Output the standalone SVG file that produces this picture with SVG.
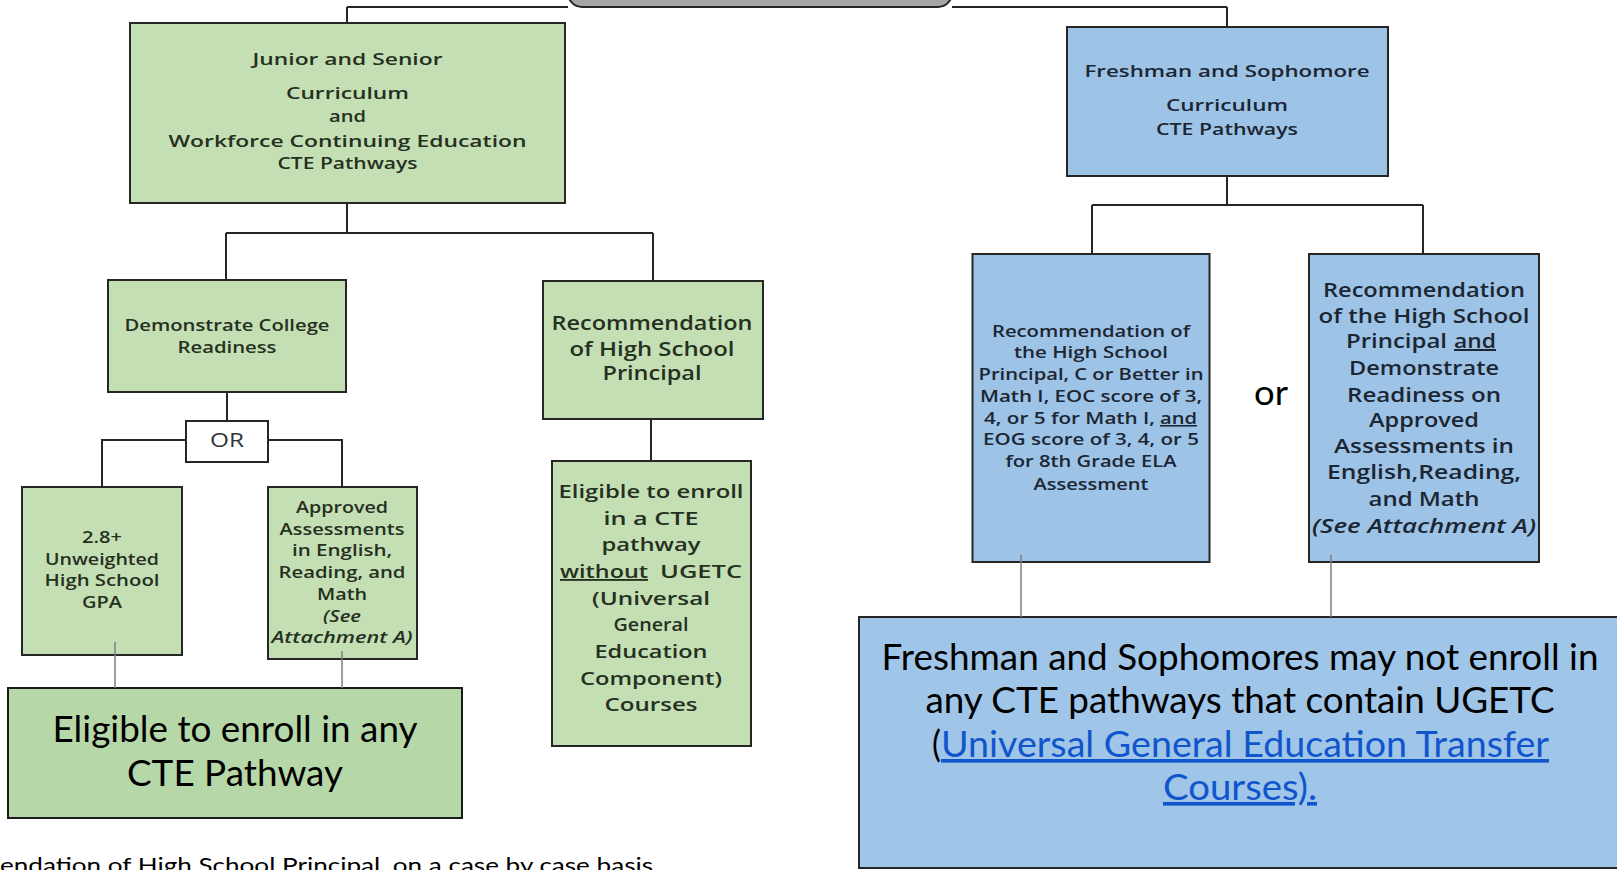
<svg xmlns="http://www.w3.org/2000/svg" width="1617" height="870" viewBox="0 0 1617 870">
<style>
.g{fill:#c5dfb4;stroke:#262626;stroke-width:2}
.g2{fill:#b6d7a8;stroke:#1a1a1a;stroke-width:2}
.b{fill:#9dc3e6;stroke:#262626;stroke-width:2}
.b2{fill:#9fc5e8;stroke:#262626;stroke-width:2}
.w{fill:#ffffff;stroke:#262626;stroke-width:2}
.t{font-family:"Open Sans","DejaVu Sans",sans-serif;font-weight:600;text-anchor:middle;fill:#25301f}
.tb{font-family:"Open Sans","DejaVu Sans",sans-serif;font-weight:600;text-anchor:middle;fill:#1c2633}
.ts{font-family:"Open Sans","DejaVu Sans",sans-serif;font-weight:600;fill:#1c2633}
.tg{font-family:"Open Sans","DejaVu Sans",sans-serif;font-weight:600;fill:#25301f}
.l{font-family:Lato,"Liberation Sans",sans-serif;fill:#000}
.lk{fill:#1155cc}
.i{font-style:italic}
.u{text-decoration:underline}
.c{fill:none;stroke:#262626;stroke-width:2}
.cg{fill:none;stroke:#808080;stroke-width:1.5}
</style>

<g id="root">
<rect x="568" y="-40" width="384" height="47" rx="14" fill="#a6a6a6" stroke="#262626" stroke-width="2"/>
</g>

<g id="junior-senior">
<rect class="g" x="130" y="23" width="435" height="180"/>
<text class="t" font-size="17" x="347.5" y="65" textLength="190" lengthAdjust="spacingAndGlyphs">Junior and Senior</text>
<text class="t" font-size="17" x="347.5" y="99" textLength="123" lengthAdjust="spacingAndGlyphs">Curriculum</text>
<text class="t" font-size="17" x="347.5" y="122" textLength="37" lengthAdjust="spacingAndGlyphs">and</text>
<text class="t" font-size="17" x="347.5" y="147" textLength="358" lengthAdjust="spacingAndGlyphs">Workforce Continuing Education</text>
<text class="t" font-size="17" x="347.5" y="169" textLength="140" lengthAdjust="spacingAndGlyphs">CTE Pathways</text>
</g>

<g id="freshman-sophomore">
<rect class="b" x="1067" y="27" width="321" height="149"/>
<text class="tb" font-size="17" x="1227" y="77" textLength="285" lengthAdjust="spacingAndGlyphs">Freshman and Sophomore</text>
<text class="tb" font-size="17" x="1227" y="111" textLength="122" lengthAdjust="spacingAndGlyphs">Curriculum</text>
<text class="tb" font-size="17" x="1227" y="135" textLength="142" lengthAdjust="spacingAndGlyphs">CTE Pathways</text>
</g>

<g id="college-readiness">
<rect class="g" x="108" y="280" width="238" height="112"/>
<text class="t" font-size="16" x="227" y="331" textLength="205" lengthAdjust="spacingAndGlyphs">Demonstrate College</text>
<text class="t" font-size="16" x="227" y="353" textLength="99" lengthAdjust="spacingAndGlyphs">Readiness</text>
</g>

<g id="or-box">
<rect class="w" x="186" y="421" width="82" height="41"/>
<text class="t" font-size="20" x="227" y="447" textLength="34" lengthAdjust="spacingAndGlyphs" style="font-weight:400;fill:#333">OR</text>
</g>

<g id="gpa">
<rect class="g" x="22" y="487" width="160" height="168"/>
<text class="t" font-size="16" x="102" y="543" textLength="40" lengthAdjust="spacingAndGlyphs">2.8+</text>
<text class="t" font-size="16" x="102" y="565" textLength="114" lengthAdjust="spacingAndGlyphs">Unweighted</text>
<text class="t" font-size="16" x="102" y="586" textLength="115" lengthAdjust="spacingAndGlyphs">High School</text>
<text class="t" font-size="16" x="102" y="608" textLength="40" lengthAdjust="spacingAndGlyphs">GPA</text>
</g>

<g id="approved-assessments">
<rect class="g" x="268" y="487" width="149" height="172"/>
<text class="t" font-size="16" x="342" y="513" textLength="92" lengthAdjust="spacingAndGlyphs">Approved</text>
<text class="t" font-size="16" x="342" y="535" textLength="125" lengthAdjust="spacingAndGlyphs">Assessments</text>
<text class="t" font-size="16" x="342" y="556" textLength="100" lengthAdjust="spacingAndGlyphs">in English,</text>
<text class="t" font-size="16" x="342" y="578" textLength="127" lengthAdjust="spacingAndGlyphs">Reading, and</text>
<text class="t" font-size="16" x="342" y="600" textLength="50" lengthAdjust="spacingAndGlyphs">Math</text>
<text class="t i" font-size="16" x="342" y="622" textLength="38" lengthAdjust="spacingAndGlyphs">(See</text>
<text class="t i" font-size="16" x="342" y="643" textLength="141" lengthAdjust="spacingAndGlyphs">Attachment  A)</text>
</g>

<g id="recommendation-principal">
<rect class="g" x="543" y="281" width="220" height="138"/>
<text class="t" font-size="19" x="652" y="330" textLength="201" lengthAdjust="spacingAndGlyphs">Recommendation</text>
<text class="t" font-size="19" x="652" y="356" textLength="165" lengthAdjust="spacingAndGlyphs">of High School</text>
<text class="t" font-size="19" x="652" y="380" textLength="99" lengthAdjust="spacingAndGlyphs">Principal</text>
</g>

<g id="eligible-without-ugetc">
<rect class="g" x="552" y="461" width="199" height="285"/>
<text class="t" font-size="18.5" x="651" y="498" textLength="185" lengthAdjust="spacingAndGlyphs">Eligible to enroll</text>
<text class="t" font-size="18.5" x="651" y="525" textLength="95" lengthAdjust="spacingAndGlyphs">in a CTE</text>
<text class="t" font-size="18.5" x="651" y="551" textLength="99" lengthAdjust="spacingAndGlyphs">pathway</text>
<text class="tg u" font-size="18.5" x="560" y="578" textLength="88" lengthAdjust="spacingAndGlyphs">without</text>
<text class="tg" font-size="18.5" x="660" y="578" textLength="82" lengthAdjust="spacingAndGlyphs">UGETC</text>
<text class="t" font-size="18.5" x="651" y="605" textLength="118" lengthAdjust="spacingAndGlyphs">(Universal</text>
<text class="t" font-size="18.5" x="651" y="631" textLength="75" lengthAdjust="spacingAndGlyphs">General</text>
<text class="t" font-size="18.5" x="651" y="658" textLength="113" lengthAdjust="spacingAndGlyphs">Education</text>
<text class="t" font-size="18.5" x="651" y="685" textLength="142" lengthAdjust="spacingAndGlyphs">Component)</text>
<text class="t" font-size="18.5" x="651" y="711" textLength="93" lengthAdjust="spacingAndGlyphs">Courses</text>
</g>

<g id="eligible-any">
<rect class="g2" x="8" y="688" width="454" height="130"/>
<text class="l" font-size="36" x="235" y="742" text-anchor="middle" textLength="365" lengthAdjust="spacingAndGlyphs">Eligible to enroll in any</text>
<text class="l" font-size="36" x="235" y="786" text-anchor="middle" textLength="216" lengthAdjust="spacingAndGlyphs">CTE Pathway</text>
</g>

<g id="recommendation-c-or-better">
<rect class="b" x="972.5" y="254" width="237" height="308"/>
<text class="tb" font-size="15.5" x="1091" y="337" textLength="198" lengthAdjust="spacingAndGlyphs">Recommendation of</text>
<text class="tb" font-size="15.5" x="1091" y="358" textLength="154" lengthAdjust="spacingAndGlyphs">the High School</text>
<text class="tb" font-size="15.5" x="1091" y="380" textLength="225" lengthAdjust="spacingAndGlyphs">Principal, C or Better  in</text>
<text class="tb" font-size="15.5" x="1091" y="402" textLength="222" lengthAdjust="spacingAndGlyphs">Math I, EOC score of 3,</text>
<text class="ts" font-size="15.5" x="984" y="424" textLength="171" lengthAdjust="spacingAndGlyphs">4, or 5 for Math  I,</text>
<text class="ts u" font-size="15.5" x="1160" y="424" textLength="37" lengthAdjust="spacingAndGlyphs">and</text>
<text class="tb" font-size="15.5" x="1091" y="445" textLength="216" lengthAdjust="spacingAndGlyphs">EOG score of 3, 4, or 5</text>
<text class="tb" font-size="15.5" x="1091" y="467" textLength="171" lengthAdjust="spacingAndGlyphs">for 8th Grade ELA</text>
<text class="tb" font-size="15.5" x="1091" y="490" textLength="115" lengthAdjust="spacingAndGlyphs">Assessment</text>
</g>

<text id="or-label" class="l" font-size="35" x="1254" y="405" textLength="34" lengthAdjust="spacingAndGlyphs">or</text>

<g id="recommendation-and-readiness">
<rect class="b" x="1309" y="254" width="230" height="308"/>
<text class="tb" font-size="20" x="1424" y="297" textLength="202" lengthAdjust="spacingAndGlyphs">Recommendation</text>
<text class="tb" font-size="20" x="1424" y="323" textLength="211" lengthAdjust="spacingAndGlyphs">of the High School</text>
<text class="ts" font-size="20" x="1346" y="348" textLength="101" lengthAdjust="spacingAndGlyphs">Principal</text>
<text class="ts u" font-size="20" x="1454" y="348" textLength="42" lengthAdjust="spacingAndGlyphs">and</text>
<text class="tb" font-size="20" x="1424" y="375" textLength="150" lengthAdjust="spacingAndGlyphs">Demonstrate</text>
<text class="tb" font-size="20" x="1424" y="402" textLength="154" lengthAdjust="spacingAndGlyphs">Readiness on</text>
<text class="tb" font-size="20" x="1424" y="427" textLength="110" lengthAdjust="spacingAndGlyphs">Approved</text>
<text class="tb" font-size="20" x="1424" y="453" textLength="180" lengthAdjust="spacingAndGlyphs">Assessments in</text>
<text class="tb" font-size="20" x="1424" y="479" textLength="194" lengthAdjust="spacingAndGlyphs">English,Reading,</text>
<text class="tb" font-size="20" x="1424" y="506" textLength="111" lengthAdjust="spacingAndGlyphs">and Math</text>
<text class="tb i" font-size="20" x="1424" y="533" textLength="224" lengthAdjust="spacingAndGlyphs">(See Attachment A)</text>
</g>

<g id="freshman-restriction">
<rect class="b2" x="859" y="617" width="770" height="251"/>
<text class="l" font-size="36" x="1240" y="670" text-anchor="middle" textLength="717" lengthAdjust="spacingAndGlyphs">Freshman and Sophomores may not enroll in</text>
<text class="l" font-size="36" x="1240" y="713" text-anchor="middle" textLength="629" lengthAdjust="spacingAndGlyphs">any CTE pathways that contain UGETC</text>
<text class="l" font-size="36" x="932" y="757" textLength="9" lengthAdjust="spacingAndGlyphs">(</text>
<text class="l lk u" font-size="36" x="941" y="757" textLength="608" lengthAdjust="spacingAndGlyphs">Universal General Education Transfer</text>
<text class="l lk u" font-size="36" x="1240" y="800" text-anchor="middle" textLength="154" lengthAdjust="spacingAndGlyphs">Courses).</text>
</g>

<text id="footnote" class="l" font-size="22" x="0" y="873" textLength="653" lengthAdjust="spacingAndGlyphs">endation of High School Principal, on a case by case basis</text>

<g id="connectors">
<path class="c" d="M347 7H568M952 7H1227M347 7V23M1227 7V27"/>
<path class="c" d="M347 203V233M226 233H653M226 233V280M653 233V281"/>
<path class="c" d="M227 392V421M186 440H102V487M268 440H342V487"/>
<path class="c" d="M651 419V461"/>
<path class="cg" d="M115 642V688M342 651V688"/>
<path class="c" d="M1227 176V205M1092 205H1423M1092 205V254M1423 205V254"/>
<path class="cg" d="M1021 555V617M1331 555V617"/>
</g>
</svg>
